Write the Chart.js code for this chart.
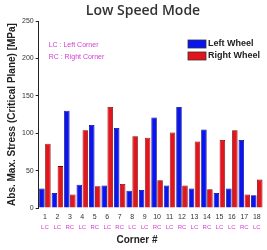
<!DOCTYPE html>
<html>
<head>
<meta charset="UTF-8">
<script src="https://cdn.jsdelivr.net/npm/chart.js"></script>
<style>
  html, body { margin: 0; padding: 0; background: #fff; }
  #wrap { width: 267px; height: 250px; position: relative; }
</style>
</head>
<body>
<div id="wrap"><canvas id="grafico"></canvas></div>
<script>
// dados
const cantos = ['1','2','3','4','5','6','7','8','9','10','11','12','13','14','15','16','17','18'];
const tipoCanto = ['LC','LC','RC','LC','RC','LC','RC','LC','LC','RC','LC','RC','LC','RC','LC','LC','RC','LC'];
const rodaEsquerda = [26, 20, 130, 31, 111, 30, 107, 23, 24, 121, 30, 135, 26, 105, 20, 26, 91, 17];
const rodaDireita = [86, 56, 18, 104, 29, 135, 32, 96, 94, 37, 101, 30, 89, 25, 91, 104, 18, 38];
const ticksY = [0, 50, 100, 150, 200, 250];

const magenta = '#d23cd2';
const padX = 5;
const linhaX = 9;

// titulo, legenda, notas e LC/RC desenhados a mao
const notas = {
  id: 'notas',
  afterDraw(chart) {
    const ctx = chart.ctx;
    const area = chart.chartArea;
    const sx = chart.scales.x;
    ctx.save();
    ctx.textBaseline = 'middle';
    ctx.textAlign = 'center';

    ctx.fillStyle = '#333';
    ctx.font = '600 14px "Open Sans", Arial, sans-serif';
    ctx.fillText('Low Speed Mode', 143, 11);

    ctx.fillStyle = '#222';
    ctx.font = 'bold 10px "Liberation Sans", Arial, sans-serif';
    ctx.fillText('Corner #', 137, 240);

    // segunda linha dos rotulos do eixo x
    ctx.font = '6px "Liberation Sans", Arial, sans-serif';
    ctx.fillStyle = magenta;
    tipoCanto.forEach((t, i) => {
      ctx.fillText(t, sx.getPixelForTick(i), sx.top + padX + linhaX * 1.5 + 1);
    });

    ctx.textAlign = 'left';
    ctx.font = '7px "Liberation Sans", Arial, sans-serif';
    ctx.fillText('LC : Left Corner', area.left + 10, 45);
    ctx.fillText('RC : Right Corner', area.left + 10, 57);

    const ds = chart.data.datasets;
    ds.forEach((d, i) => {
      const y = 44 + i * 12;
      ctx.fillStyle = d.backgroundColor;
      ctx.strokeStyle = '#333';
      ctx.lineWidth = 0.8;
      ctx.fillRect(188, y - 4, 18, 8);
      ctx.strokeRect(188, y - 4, 18, 8);
      ctx.fillStyle = '#222';
      ctx.font = 'bold 9px "Liberation Sans", Arial, sans-serif';
      ctx.fillText(d.label, 208, y);
    });
    ctx.restore();
  }
};

const config = {
  type: 'bar',
  data: {
    labels: cantos,
    datasets: [{
      label: 'Left Wheel',
      data: rodaEsquerda,
      backgroundColor: '#0a14f0',
      borderColor: '#00007a',
      borderWidth: 0.8,
      categoryPercentage: 0.96,
      barPercentage: 0.92
    }, {
      label: 'Right Wheel',
      data: rodaDireita,
      backgroundColor: '#e3141c',
      borderColor: '#7a0000',
      borderWidth: 0.8,
      categoryPercentage: 0.96,
      barPercentage: 0.92
    }]
  },
  options: {
    responsive: true,
    maintainAspectRatio: false,
    animation: false,
    layout: { padding: { top: 21, right: 4, left: 6, bottom: 14 } },
    plugins: {
      legend: { display: false },
      tooltip: { enabled: false },
      title: { display: false }
    },
    scales: {
      x: {
        grid: { display: false, drawTicks: false },
        border: { display: false },
        ticks: {
          color: '#333',
          font: { family: '"Liberation Sans", Arial, sans-serif', size: 7, lineHeight: linhaX / 7 },
          padding: padX,
          maxRotation: 0,
          autoSkip: false,
          callback: (v, i) => [cantos[i], ' ']
        }
      },
      y: {
        min: 0,
        max: 250,
        afterBuildTicks(scale) {
          scale.ticks = ticksY.map(v => ({ value: v }));
        },
        grid: { drawOnChartArea: false, drawTicks: true, tickLength: 3, color: '#222' },
        border: { display: true, color: '#222', width: 1 },
        ticks: {
          color: '#333',
          font: { family: '"Liberation Sans", Arial, sans-serif', size: 7 },
          padding: 2
        },
        title: {
          display: true,
          text: 'Abs. Max. Stress (Critical Plane) [MPa]',
          color: '#222',
          font: { family: '"Liberation Sans", Arial, sans-serif', size: 10, weight: 'bold' },
          padding: { top: 0, bottom: 2 }
        }
      }
    }
  },
  plugins: [notas]
};

new Chart(document.getElementById('grafico'), config);
</script>
</body>
</html>
